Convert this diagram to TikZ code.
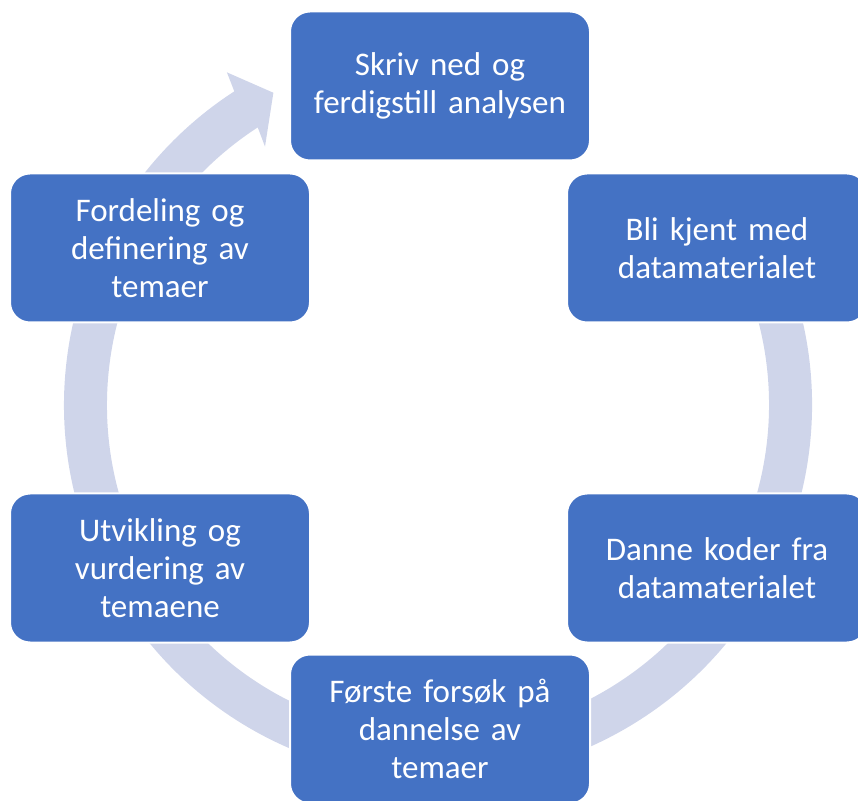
\documentclass[tikz,border=0pt]{standalone}
\usepackage{fontspec}
\setmainfont{Carlito}
\definecolor{boxblue}{HTML}{4472C4}
\definecolor{ringcol}{HTML}{CFD5EA}
\begin{document}
\begin{tikzpicture}[x=1pt,y=1pt,
  stepbox/.style={draw=white, line width=2pt, fill=boxblue, rounded corners=20pt,
    minimum width=300pt, minimum height=149pt, text width=294pt, align=center,
    text=white, font=\fontsize{33}{38}\selectfont, inner sep=0pt}]
\useasboundingbox (0,0) rectangle (858,800);
\clip (0,0) rectangle (858,800);
\coordinate (C) at (438,395);
% ring with arrow head
\fill[ringcol] ([shift={(C)}]30:374) arc[start angle=30, end angle=-237, radius=374pt]
  -- ([shift={(C)}]122.4:394) -- ([shift={(C)}]117.8:353) -- ([shift={(C)}]123.8:311)
  -- ([shift={(C)}]123:331) arc[start angle=-237, end angle=30, radius=331pt] -- cycle;
% boxes
\node[stepbox] (top) at (440,714) {Skriv ned og\\ferdigstill analysen};
\node[stepbox] (ru) at (717,552) {Bli kjent med\\datamaterialet};
\node[stepbox] (rl) at (717,232) {Danne koder fra\\datamaterialet};
\node[stepbox] (bot) at (440,71) {Første forsøk på\\dannelse av\\temaer};
\node[stepbox] (ll) at (160,232) {Utvikling og\\vurdering av\\temaene};
\node[stepbox] (lu) at (160,552) {Fordeling og\\definering av\\temaer};
\end{tikzpicture}
\end{document}
